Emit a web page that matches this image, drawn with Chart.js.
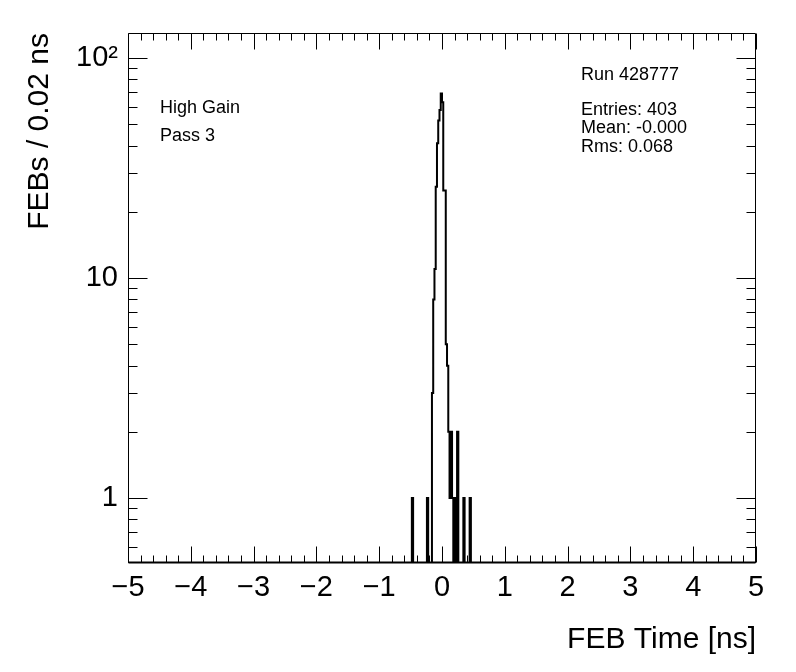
<!DOCTYPE html>
<html>
<head>
<meta charset="utf-8">
<script src="https://cdn.jsdelivr.net/npm/chart.js@4.4.1/dist/chart.umd.min.js"></script>
<style>
  html, body { margin: 0; padding: 0; background: #fff; }
  canvas { display: block; }
</style>
</head>
<body>
<canvas id="feb" width="796" height="672"></canvas>
<script>
// ── DATA ──
const BIN_WIDTH = 0.02;          // ns
const FIRST_EDGE = -0.50;        // left edge of COUNTS[0]
const COUNTS = [
  0, 1, 0, 0, 0, 0, 0, 0, 0, 0,
  0, 0, 0, 1, 0, 0, 0, 3, 8, 11,
  26, 41, 52, 58, 69, 63, 25, 25, 5, 4,
  2, 1, 2, 1, 0, 1, 0, 2, 0, 0,
  0, 0, 1, 0, 0, 0, 0, 1, 0, 0
];
const X_MIN = -5, X_MAX = 5;
const Y_MIN = 0.507, Y_MAX = 130;
const X_TICKS = [-5, -4, -3, -2, -1, 0, 1, 2, 3, 4, 5];
const Y_TICKS = [1, 10, 100];
const Y_TICK_LABELS = ['1', '10', '10\u00B2'];
const X_TITLE = 'FEB Time [ns]';
const Y_TITLE = 'FEBs / 0.02 ns';
const LEFT_NOTES = ['High Gain', 'Pass 3'];
const RUN_LABEL = 'Run 428777';
const STATS = ['Entries: 403', 'Mean: -0.000', 'Rms: 0.068'];

const FONT = "'Liberation Sans', Arial, Helvetica, sans-serif";

// histogram outline: one point per left bin edge, stepped
function histPoints() {
  const pts = [{ x: X_MIN, y: Y_MIN }];
  COUNTS.forEach((c, i) => {
    pts.push({ x: FIRST_EDGE + i * BIN_WIDTH, y: c > 0 ? c : Y_MIN });
  });
  pts.push({ x: FIRST_EDGE + COUNTS.length * BIN_WIDTH, y: Y_MIN });
  pts.push({ x: X_MAX, y: Y_MIN });
  return pts;
}

const fmtX = v => (v < 0 ? '\u2212' + Math.abs(v) : String(v));

// ── ROOT-STYLE FRAME + INWARD TICKS + TEXT ──
const rootFrame = {
  id: 'rootFrame',
  afterDatasetsDraw(chart) {
    const { ctx, chartArea: a, scales: { x, y } } = chart;
    const L = Math.round(a.left) + 0.5, R = Math.round(a.right) - 0.5;
    const T = Math.round(a.top) + 0.5, B = Math.round(a.bottom) - 0.5;
    ctx.save();
    ctx.strokeStyle = '#000';
    ctx.lineWidth = 1;
    ctx.beginPath();
    ctx.rect(L, T, R - L, B - T);

    // x ticks, bottom and top
    for (let i = 0; i <= 50; i++) {
      const v = X_MIN + i * 0.2;
      const px = Math.round(x.getPixelForValue(v)) + 0.5;
      const len = i % 5 === 0 ? 16 : 7;
      ctx.moveTo(px, B); ctx.lineTo(px, B - len);
      ctx.moveTo(px, T); ctx.lineTo(px, T + len);
    }
    // y ticks, left and right (log decades)
    [0.1, 1, 10, 100].forEach(d => {
      for (let m = 1; m <= 9; m++) {
        const v = m * d;
        if (v < Y_MIN || v > Y_MAX) continue;
        const py = Math.round(y.getPixelForValue(v)) + 0.5;
        const len = m === 1 ? 19 : 9;
        ctx.moveTo(L, py); ctx.lineTo(L + len, py);
        ctx.moveTo(R, py); ctx.lineTo(R - len, py);
      }
    });
    ctx.stroke();
    // bottom edge is a bit heavier (empty bins sit on it)
    ctx.lineWidth = 2;
    ctx.beginPath();
    ctx.moveTo(L, B); ctx.lineTo(R, B);
    ctx.stroke();

    ctx.fillStyle = '#000';
    ctx.font = '18px ' + FONT;
    ctx.textBaseline = 'middle';
    ctx.textAlign = 'left';
    LEFT_NOTES.forEach((t, i) => ctx.fillText(t, 160, 108 + i * 28));
    ctx.fillText(RUN_LABEL, 581, 75);
    STATS.forEach((t, i) => ctx.fillText(t, 581, 110 + i * 18.5));
    ctx.restore();
  }
};

new Chart(document.getElementById('feb'), {
  type: 'line',
  data: {
    datasets: [{
      data: histPoints(),
      stepped: 'before',
      borderColor: '#000',
      borderWidth: 2,
      pointRadius: 0,
      fill: false
    }]
  },
  options: {
    responsive: false,
    animation: false,
    layout: { padding: { top: 33, right: 40, left: 0, bottom: 0 } },
    plugins: { legend: { display: false }, tooltip: { enabled: false } },
    scales: {
      x: {
        type: 'linear', min: X_MIN, max: X_MAX,
        afterBuildTicks: s => { s.ticks = X_TICKS.map(v => ({ value: v })); },
        afterFit: s => { s.height = 109; },
        grid: { display: false, drawTicks: false },
        border: { display: false },
        ticks: { callback: v => fmtX(v), color: '#000', font: { family: FONT, size: 29 }, padding: 8, maxRotation: 0, autoSkip: false },
        title: { display: true, text: X_TITLE, align: 'end', color: '#000', font: { family: FONT, size: 30 }, padding: { top: 0, bottom: 14 } }
      },
      y: {
        type: 'logarithmic', min: Y_MIN, max: Y_MAX,
        afterBuildTicks: s => { s.ticks = Y_TICKS.map(v => ({ value: v })); },
        afterFit: s => { s.width = 128; },
        grid: { display: false, drawTicks: false },
        border: { display: false },
        ticks: { callback: (v, i) => Y_TICK_LABELS[i], color: '#000', font: { family: FONT, size: 29 }, padding: 10, autoSkip: false },
        title: { display: true, text: Y_TITLE, align: 'end', color: '#000', font: { family: FONT, size: 30 }, padding: { top: 22, bottom: 0 } }
      }
    }
  },
  plugins: [rootFrame]
});
</script>
</body>
</html>
